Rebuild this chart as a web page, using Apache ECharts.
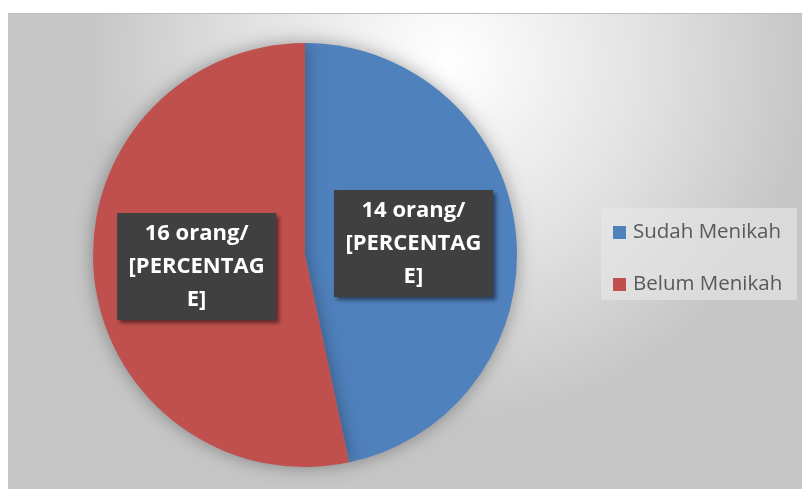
<!DOCTYPE html>
<html>
<head>
<meta charset="utf-8">
<script src="https://cdn.jsdelivr.net/npm/echarts@6/dist/echarts.min.js"></script>
<style>
html, body { margin: 0; padding: 0; background: #fff; }
#main { width: 802px; height: 489px; }
</style>
</head>
<body>
<div id="main"></div>
<script>
var categories = ['Sudah Menikah', 'Belum Menikah'];
var values = [14, 16];
var colors = ['#4f81bd', '#c0504d'];

var chart = echarts.init(document.getElementById('main'));

var pieData = categories.map(function (name, i) {
  return { name: name, value: values[i], itemStyle: { color: colors[i] } };
});

var option = {
  animation: false,
  graphic: [
    {
      type: 'rect',
      z: -10,
      shape: { x: 8, y: 13, width: 800, height: 480 },
      style: {
        fill: {
          type: 'radial', x: 0.55, y: 0.1, r: 0.75,
          colorStops: [
            { offset: 0, color: '#ffffff' },
            { offset: 0.55, color: '#e2e2e2' },
            { offset: 1, color: '#c6c6c6' }
          ]
        }
      }
    },
    {
      type: 'line',
      z: -9,
      shape: { x1: 8, y1: 13.5, x2: 802, y2: 13.5 },
      style: { stroke: '#bdbdbd', lineWidth: 1 }
    },
    {
      type: 'rect',
      z: -5,
      shape: { x: 601, y: 208, width: 196, height: 92 },
      style: { fill: 'rgba(232,232,232,0.6)' }
    }
  ],
  legend: {
    orient: 'vertical',
    left: 613,
    top: 222,
    padding: 0,
    itemWidth: 13,
    itemHeight: 13,
    itemGap: 31,
    icon: 'rect',
    textStyle: { fontFamily: 'Open Sans', fontSize: 20.5, color: '#595959', padding: [0, 0, 0, 2] },
    data: categories
  },
  series: [
    {
      type: 'pie',
      center: [305, 255],
      radius: 212,
      startAngle: 90,
      clockwise: true,
      itemStyle: {
        shadowBlur: 18,
        shadowColor: 'rgba(0,0,0,0.35)'
      },
      label: {
        show: true,
        position: 'inside',
        formatter: '{c} orang/\n[PERCENTAG\nE]',
        fontFamily: 'Open Sans',
        fontWeight: 'bold',
        fontSize: 22,
        lineHeight: 33,
        color: '#ffffff',
        backgroundColor: '#404040',
        width: 143,
        align: 'center',
        padding: [4, 8, 4, 8],
        shadowColor: 'rgba(0,0,0,0.5)',
        shadowBlur: 4,
        shadowOffsetX: 3,
        shadowOffsetY: 3
      },
      labelLine: { show: false },
      emphasis: { disabled: true },
      data: pieData
    }
  ]
};

chart.setOption(option);
</script>
</body>
</html>
